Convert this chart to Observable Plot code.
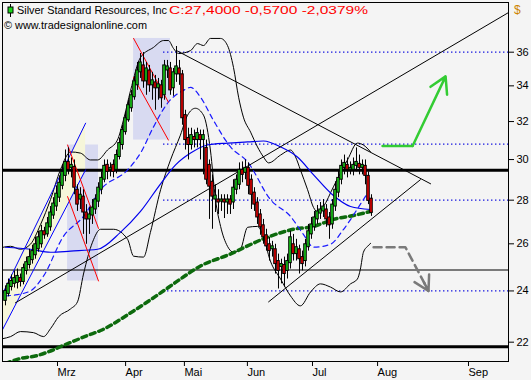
<!DOCTYPE html>
<html><head><meta charset="utf-8">
<script src="https://cdn.jsdelivr.net/npm/d3@7"></script>
<script src="https://cdn.jsdelivr.net/npm/@observablehq/plot@0.6"></script>
<style>
html,body{margin:0;padding:0;background:#f4f4f4;}
#chart{width:531px;height:380px;overflow:hidden;}
</style></head><body><div id="chart"></div>
<script>
// ---- Candles (bar index 0..122) ----
const open = [
23.60,23.88,24.16,24.29,24.33,24.53,24.37,24.83,25.08,25.29,
25.50,25.76,25.98,26.56,26.42,26.74,27.28,27.70,28.12,28.69,
29.18,29.88,29.58,29.63,28.50,28.03,28.17,27.42,27.10,27.28,
27.56,27.93,28.50,28.99,29.73,29.48,29.73,29.48,30.13,30.75,
31.43,32.07,32.73,33.35,34.03,34.79,35.20,34.26,34.90,34.03,
34.20,33.86,34.03,33.46,34.90,35.02,33.86,34.67,35.02,34.67,
32.35,31.12,30.75,31.17,31.01,31.27,31.01,30.60,29.73,28.89,
28.03,28.03,27.93,28.03,27.89,28.03,27.89,28.50,28.74,29.48,
29.33,29.58,28.99,28.36,27.89,27.33,26.83,26.38,25.98,25.76,
25.76,25.25,25.00,25.08,24.83,25.16,25.98,25.55,25.76,25.42,
25.25,25.85,26.42,26.74,27.10,27.37,27.47,27.56,27.19,26.87,
27.70,28.36,28.99,29.58,29.73,29.48,29.48,29.68,29.78,29.58,
29.68,29.18,28.07];
const close = [
24.00,24.29,24.41,24.53,24.62,24.37,24.95,25.20,25.42,25.68,
25.98,26.29,26.56,26.38,26.92,27.42,27.84,28.31,28.84,29.38,
29.88,29.48,29.73,28.60,27.79,28.26,27.42,27.10,27.33,27.65,
28.03,28.60,29.08,29.68,29.38,29.58,29.38,30.23,30.85,31.54,
32.18,32.90,33.46,34.26,34.90,35.38,34.26,35.02,34.03,34.32,
33.86,34.09,33.29,35.20,35.14,33.74,34.79,35.14,34.67,32.18,
31.01,30.75,31.27,31.01,31.38,31.01,31.27,28.99,28.65,28.17,
28.22,27.89,28.03,27.89,28.03,27.79,28.60,28.99,29.48,29.23,
29.58,28.69,28.26,27.79,27.19,26.74,26.29,25.89,25.68,25.89,
25.12,24.83,25.12,24.70,25.25,26.29,25.55,25.85,25.33,25.12,
25.98,26.56,26.87,27.19,27.47,27.56,27.70,27.10,26.83,27.79,
28.50,29.08,29.68,29.83,29.48,29.58,29.73,29.88,29.58,29.73,
29.18,27.97,27.40];
const high = [
24.21,24.49,24.66,24.83,24.91,24.70,25.12,25.42,25.76,25.94,
26.29,26.56,26.83,26.74,27.19,27.70,28.12,28.69,29.18,29.73,
30.49,30.60,30.08,29.98,28.74,28.60,28.50,27.79,27.65,28.03,
28.26,28.84,29.38,29.98,29.98,29.83,29.98,30.49,31.12,31.80,
32.51,33.18,33.74,34.55,35.38,35.92,35.98,35.38,35.20,34.79,
34.61,34.43,34.32,35.50,35.50,35.38,35.02,36.35,35.50,34.90,
32.62,31.64,31.64,31.54,31.64,31.54,31.54,31.01,29.98,29.23,
28.74,28.50,28.26,28.26,28.26,28.22,28.99,29.23,29.83,29.88,
29.98,29.83,29.23,28.60,28.12,27.56,27.10,26.65,26.29,26.11,
25.98,25.55,25.33,25.42,25.55,26.56,26.42,26.20,25.94,25.68,
26.20,26.87,27.19,27.47,27.75,27.89,28.03,27.79,27.42,28.03,
28.89,29.48,29.98,30.23,30.08,29.88,30.08,30.60,30.23,29.98,
29.98,29.38,28.26];
const low = [
23.40,23.76,24.00,24.12,24.08,24.16,24.25,24.66,24.91,25.12,
25.33,25.63,25.81,26.20,26.29,26.56,27.10,27.47,27.89,28.50,
28.89,29.23,29.08,28.26,27.47,27.56,26.42,25.98,26.42,26.87,
27.33,27.65,28.26,28.84,28.99,29.13,29.08,29.28,29.98,30.49,
31.27,31.96,32.51,33.18,33.74,34.43,33.86,33.46,33.63,33.18,
32.62,33.18,32.73,33.18,34.43,33.46,33.40,34.20,34.03,31.80,
30.49,29.98,30.49,30.60,30.60,29.98,29.23,28.74,27.10,26.65,
27.42,27.33,27.47,27.14,27.33,27.33,27.56,28.26,28.50,28.84,
28.99,28.26,27.56,27.47,26.87,26.38,25.98,25.68,25.25,25.42,
24.70,24.08,24.29,24.16,24.49,24.91,25.25,25.25,24.70,24.83,
25.00,25.68,26.20,26.56,26.87,27.10,27.19,26.74,26.20,26.65,
27.47,28.12,28.74,29.23,29.08,29.23,29.18,29.38,29.23,29.23,
28.74,27.79,27.24];

// ---- Axis ticks ----
const xTicks = [17, 39.7, 59.3, 80.3, 102, 123.7, 154];
const xLabels = ["Mrz","Apr","Mai","Jun","Jul","Aug","Sep"];
const yTicks = [22,24,26,28,30,32,34,36];

// ---- Indicators [bar index, price] ----
const ma200 = [[0,21.22],[5,21.40],[10.7,21.51],[13.7,21.62],[16.3,21.73],[19.3,21.88],[21.7,21.99],[27.3,22.25],[31.7,22.44],[42.7,23.20],[56,24.29],[58.3,24.49],[65,25.04],[74,25.50],[87.3,26.29],[96,26.65],[102.7,26.78],[109.3,27.10],[116,27.28],[121.7,27.47]];
const ma50 = [[0,25.85],[8.3,25.76],[15,25.63],[21.7,25.68],[30.7,25.76],[38.3,26.51],[45,27.47],[51.7,28.79],[56.7,29.73],[61.7,30.33],[67.3,30.75],[74,30.85],[80.7,30.91],[86,30.96],[91.7,30.65],[97.3,30.13],[102.7,29.23],[109.3,28.22],[115,27.70],[121.7,27.56]];
const ma20 = [[0,23.80],[3.3,23.84],[8.3,24.00],[12.7,24.62],[19.3,26.33],[26,27.24],[31.7,28.50],[40.7,29.48],[45,30.33],[49.3,31.70],[54,33.01],[59.3,33.74],[61.7,33.91],[65,33.35],[69.3,32.07],[75,30.65],[80.7,29.88],[88.3,28.03],[95,27.24],[99.3,26.42],[102.7,25.85],[108.3,25.98],[112.7,26.65],[119.3,28.03],[121,28.40]];
const bbUpper = [[-0.7,25.85],[1.7,25.89],[5,25.76],[8.3,25.98],[11.7,26.87],[15,28.03],[18.3,29.48],[21.7,30.39],[25,30.33],[28.3,29.98],[30.7,29.98],[34,30.49],[37.3,31.01],[39.3,32.07],[41.7,33.74],[45,35.68],[49.3,36.29],[52.7,36.72],[54.3,36.72],[56,36.23],[57.7,35.92],[61.7,36.10],[64,36.53],[66,36.41],[68.3,36.85],[71.7,36.85],[74,36.41],[76,35.08],[77.7,33.35],[79.3,32.24],[81.7,31.43],[84,30.65],[86,30.13],[87.7,29.83],[91.7,30.23],[95,30.49],[96.7,30.13],[98.3,29.48],[100.7,28.50],[102.7,27.65],[104.3,27.42],[106,27.70],[109.3,28.64],[114,29.98],[117.3,30.85],[119.3,30.75],[121.7,30.39]];
const bbLower = [[-1,22.13],[1.7,22.21],[5,22.40],[9.3,22.36],[12.7,22.21],[15,22.51],[17.7,22.97],[21.7,23.28],[24,23.56],[26,24.70],[29,26.07],[31.7,26.65],[36,26.65],[40.7,26.20],[42.7,25.46],[46,25.42],[48.3,26.51],[51.7,28.50],[55,29.98],[58.3,31.27],[60.7,32.35],[63.3,32.73],[66,32.35],[68.3,30.49],[70,28.03],[71.7,26.78],[74,25.89],[76,25.63],[78.3,25.76],[80.7,26.74],[84,26.78],[85.7,26.42],[88.3,25.25],[91.7,24.49],[95,23.80],[98.3,23.40],[101.7,23.96],[105,24.29],[108.3,24.16],[111.7,23.96],[115,24.29],[117.3,24.49],[118.3,24.91],[119.3,25.63],[120.7,25.89],[121.7,26.02]];

// ---- Drawing tools ----
const trendUp = [[3.3,23.52],[167.7,38.51]];
const trendDown = [[57,36.10],[141.7,28.79]];
const support = [[87.7,23.56],[138.3,28.99]];
const blueUpper = [[-1,23.88],[26.7,31.91]];
const blueLower = [[-1,22.47],[26.7,29.48]];
const redLines = [
  [[20.7,30.75],[31,26.69]], [[20.7,28.17],[31,24.41]],
  [[42.7,36.85],[54.3,33.07]], [[42.7,34.49],[54.3,31.01]]];
const boxes = [{x1:20.7,x2:31,y1:24.41,y2:30.75},{x1:42.7,x2:55,y1:31.01,y2:36.85}];
const dottedLevels = [36, 30.8, 28, 24];
const dottedStart = 52.7;
const thickLevels = [29.46, 21.83];
const thinLevels = [24.87];
const greenArrow = [[125.7,30.70],[135.7,30.70],[146.7,34.55]];
const greyArrow = [[122.7,25.85],[133.3,25.85],[141,24.00]];

const bars = open.map((o,i)=>({i, open:o, close:close[i], high:high[i], low:low[i]}));
const pts = a => a.map(([i,p])=>({i,p}));
const labelFor = new Map(xTicks.map((t,k)=>[t,xLabels[k]]));
const chan = [{i:blueUpper[0][0], lo:blueLower[0][1], hi:blueUpper[0][1]},{i:blueUpper[1][0], lo:blueLower[1][1], hi:blueUpper[1][1]}];

const L = (a, o) => Plot.line(pts(a), {x:"i", y:"p", clip:true, ...o});

const plot = Plot.plot({
  width:531, height:380, marginLeft:2, marginRight:23, marginTop:2, marginBottom:19,
  style:{background:"#f4f4f4", fontFamily:"Liberation Sans, Arial, sans-serif", fontSize:"11px", color:"black", overflow:"visible"},
  x:{domain:[-1,167.67]},
  y:{type:"log", domain:[21.29,39.17]},
  marks:[
    Plot.rect(boxes, {x1:"x1", x2:"x2", y1:"y1", y2:"y2", fill:"#d8daf1"}),
    Plot.areaY(chan, {x:"i", y1:"lo", y2:"hi", fill:"#f6f6da", clip:true}),
    Plot.ruleY(dottedLevels, {x1:dottedStart, x2:167.67, stroke:"#0000dd", strokeWidth:1.3, strokeDasharray:"1.3,2.7"}),
    Plot.ruleY(thinLevels, {stroke:"black", strokeWidth:1.2}),
    Plot.ruleY(thickLevels, {stroke:"black", strokeWidth:3}),
    L(bbUpper, {stroke:"black", strokeWidth:1, curve:"monotone-x"}),
    L(bbLower, {stroke:"black", strokeWidth:1, curve:"monotone-x"}),
    L(ma200, {stroke:"#0d6a0d", strokeWidth:3.5, strokeDasharray:"5,4", curve:"monotone-x"}),
    L(ma50, {stroke:"#0000ee", strokeWidth:1.2, curve:"monotone-x"}),
    L(ma20, {stroke:"#1a1aff", strokeWidth:1.2, strokeDasharray:"5,4", curve:"monotone-x"}),
    L(blueUpper, {stroke:"#0000ff", strokeWidth:1}),
    L(blueLower, {stroke:"#0000ff", strokeWidth:1}),
    ...redLines.map(r => L(r, {stroke:"#ff0000", strokeWidth:1})),
    L(trendUp, {stroke:"black", strokeWidth:1}),
    L(trendDown, {stroke:"black", strokeWidth:1}),
    L(support, {stroke:"black", strokeWidth:1}),
    Plot.ruleX(bars, {x:"i", y1:"low", y2:"high", stroke:"black", strokeWidth:1}),
    Plot.rect(bars, {x1:d=>d.i-0.42, x2:d=>d.i+0.42, y1:"open", y2:"close",
      fill:d=>d.close>=d.open?"#19d619":"#ee0000", stroke:"black", strokeWidth:1}),
    L(greenArrow.slice(0,2), {stroke:"#33cc33", strokeWidth:2.5}),
    Plot.arrow([greenArrow], {x1:d=>d[1][0], y1:d=>d[1][1], x2:d=>d[2][0], y2:d=>d[2][1], stroke:"#33cc33", strokeWidth:2.5, headLength:11}),
    L(greyArrow, {stroke:"#7a7a7a", strokeWidth:2.5, strokeDasharray:"8,5"}),
    Plot.arrow([greyArrow], {x1:d=>d[1][0], y1:d=>d[1][1], x2:d=>d[2][0], y2:d=>d[2][1], stroke:"#7a7a7a", strokeWidth:2.5, headLength:10, insetStart:40}),
    Plot.frame({stroke:"black", strokeWidth:1}),
    Plot.axisY({anchor:"right", ticks:yTicks, tickSize:5, tickPadding:3, tickFormat:d=>String(d), fontSize:11}),
    Plot.axisX({anchor:"bottom", ticks:xTicks, tickSize:5, tickPadding:2, tickFormat:d=>labelFor.get(d), textAnchor:"start", dx:1, fontSize:11})
  ]
});
document.getElementById("chart").appendChild(plot);

// ---- Header texts ----
const svg = d3.select(plot);
const g = svg.append("g").attr("font-family","Liberation Sans, Arial, sans-serif").attr("font-size",11.5).attr("text-anchor","start");
g.append("line").attr("x1",10.5).attr("x2",10.5).attr("y1",4).attr("y2",17).attr("stroke","black");
g.append("rect").attr("x",8).attr("y",7).attr("width",5).attr("height",6).attr("fill","#19d619").attr("stroke","black");
g.append("text").attr("text-anchor","start").attr("x",17).attr("y",14).attr("textLength",150).attr("lengthAdjust","spacingAndGlyphs").attr("fill","black").text("Silver Standard Resources, Inc");
g.append("text").attr("text-anchor","start").attr("x",169).attr("y",14).attr("textLength",199).attr("lengthAdjust","spacingAndGlyphs").attr("fill","#ff0000").text("C:27,4000 -0,5700 -2,0379%");
g.append("text").attr("text-anchor","start").attr("x",4).attr("y",29).attr("textLength",143).attr("lengthAdjust","spacingAndGlyphs").attr("fill","black").text("© www.tradesignalonline.com");
g.append("text").attr("text-anchor","start").attr("x",514).attr("y",14).attr("fill","#cc8400").attr("font-size",12).text("$");
</script></body></html>
